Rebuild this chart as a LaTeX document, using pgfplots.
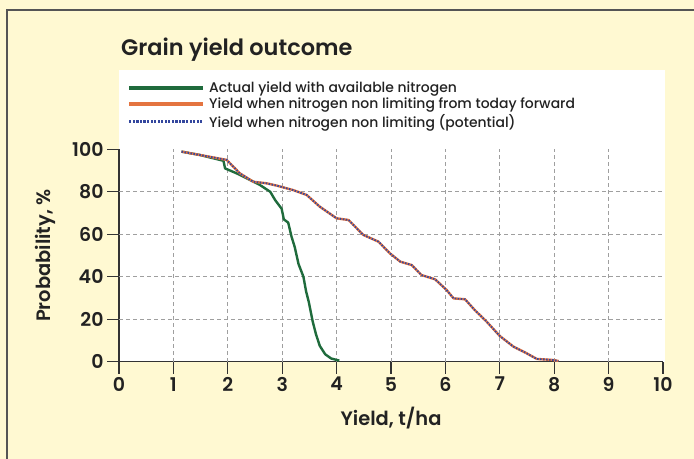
\documentclass[border=0pt]{standalone}
\usepackage{fontspec}
\setmainfont{Poppins}
\newfontfamily\semib{Poppins}[UprightFont={* SemiBold}]
\newfontfamily\medf{Poppins}[UprightFont={* Medium}]
\usepackage{pgfplots}
\pgfplotsset{compat=1.18}
\definecolor{bgyellow}{HTML}{FFF9D2}
\definecolor{frameg}{HTML}{555555}
\definecolor{greenl}{HTML}{1F6B3C}
\definecolor{orangel}{HTML}{E47440}
\definecolor{bluel}{HTML}{34479E}
\definecolor{axisc}{HTML}{333333}
\definecolor{txt}{HTML}{222222}
\begin{document}
\begin{tikzpicture}[x=1bp,y=1bp]
\useasboundingbox (0,0) rectangle (694,459);
\fill[bgyellow] (0,0) rectangle (694,459);
\draw[frameg, line width=1.2bp] (7,0) -- (7,449) -- (694,449);
\fill[white] (119,97.3) rectangle (665,389);
\node[anchor=base west, text=txt, font=\semib\fontsize{22.5}{26}\selectfont, inner sep=0pt] at (121,403) {Grain yield outcome};
\begin{axis}[
  at={(119bp,97.3bp)}, anchor=south west,
  scale only axis, width=544bp, height=212.4bp,
  xmin=0, xmax=10, ymin=0, ymax=100,
  axis x line*=bottom, axis y line*=left,
  axis line style={axisc, line width=1.2bp},
  xtick={0,...,10}, ytick={0,20,...,100},
  tick align=outside, major tick length=12bp,
  tick style={axisc, line width=1.2bp},
  /pgf/number format/assume math mode=true,
  ticklabel style={font=\semib\fontsize{19}{22}\selectfont, text=txt},
  extra x ticks={1,...,9}, extra x tick labels={},
  extra x tick style={grid=major, major tick length=0pt},
  extra y ticks={20,40,60,80}, extra y tick labels={},
  extra y tick style={grid=major, major tick length=0pt},
  grid style={gray!75, line width=0.9bp, dash pattern=on 4bp off 3bp},
  xlabel={Yield, t/ha}, ylabel={Probability, \%},
  label style={font=\semib\fontsize{19.5}{22}\selectfont, text=txt},
  xlabel style={yshift=3bp},
  ylabel style={yshift=-2bp},
  legend style={at={(0.0,1.338)}, anchor=north west, draw=none, fill=white,
    font=\medf\fontsize{14}{15}\selectfont, text=txt, row sep=0pt,
    inner sep=2bp},
  legend cell align=left,
]
\addplot[greenl, line width=2.4bp, line join=round,
  legend image code/.code={\path[draw=none,fill=none] (0bp,0bp) -- (86bp,0bp); \fill[greenl, draw=none] (8bp,-1.9bp) rectangle (82bp,1.9bp);}] coordinates {
(1.15,98.9)(1.49,97.3)(1.92,94.6)(1.95,91.0)(2.16,88.7)(2.35,86.3)(2.59,83.2)(2.78,80.0)(2.87,76.1)(2.99,72)(3.03,67)(3.11,65.5)(3.17,59)(3.23,54)(3.30,46)(3.39,40)(3.44,33)(3.49,28)(3.56,19)(3.62,13)(3.69,7.5)(3.79,3.5)(3.90,1.5)(4.05,0.5)
};
\addlegendentry{Actual yield with available nitrogen}
\addplot[orangel, line width=2.4bp, line join=round,
  legend image code/.code={\path[draw=none,fill=none] (0bp,0bp) -- (86bp,0bp); \fill[orangel, draw=none] (8bp,-1.9bp) rectangle (82bp,1.9bp);}] coordinates {
(1.15,98.9)(1.49,97.3)(1.98,95.0)(2.22,88.7)(2.47,84.7)(2.71,84.0)(2.90,82.9)(3.20,80.8)(3.45,78.5)(3.69,73.0)(4.00,67.5)(4.22,66.7)(4.49,59.7)(4.77,56.5)(4.98,51.0)(5.17,47.1)(5.38,45.5)(5.56,40.8)(5.81,38.8)(6.02,33.8)(6.15,29.8)(6.36,29.4)(6.54,24.3)(6.76,18.8)(7.00,12.1)(7.25,7.1)(7.49,4.0)(7.68,1.3)(7.98,0.8)(8.08,0.3)
};
\addlegendentry{Yield when nitrogen non limiting from today forward}
\addplot[bluel, line width=1.8bp, dash pattern=on 1.5bp off 1.5bp,
  legend image code/.code={\path[draw=none,fill=none] (0bp,0bp) -- (86bp,0bp); \foreach \k in {0,...,20} {\fill[bluel, draw=none] ({8bp+\k*3.55bp},-1.3bp) rectangle ({10.2bp+\k*3.55bp},1.3bp);}}] coordinates {
(1.15,98.9)(1.49,97.3)(1.98,95.0)(2.22,88.7)(2.47,84.7)(2.71,84.0)(2.90,82.9)(3.20,80.8)(3.45,78.5)(3.69,73.0)(4.00,67.5)(4.22,66.7)(4.49,59.7)(4.77,56.5)(4.98,51.0)(5.17,47.1)(5.38,45.5)(5.56,40.8)(5.81,38.8)(6.02,33.8)(6.15,29.8)(6.36,29.4)(6.54,24.3)(6.76,18.8)(7.00,12.1)(7.25,7.1)(7.49,4.0)(7.68,1.3)(7.98,0.8)(8.08,0.3)
};
\addlegendentry{Yield when nitrogen non limiting (potential)}
\end{axis}
\end{tikzpicture}
\end{document}
